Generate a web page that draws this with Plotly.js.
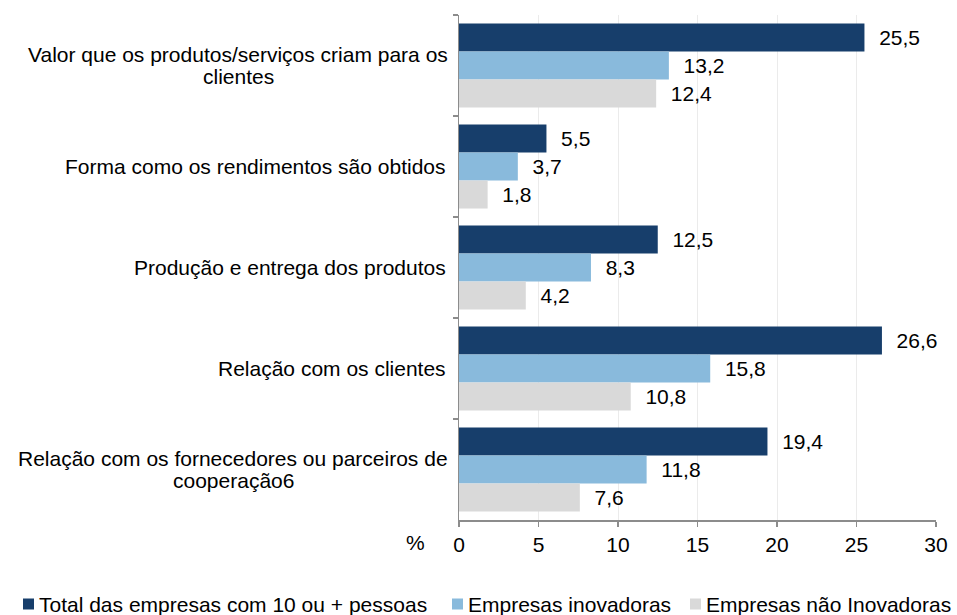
<!DOCTYPE html>
<html>
<head>
<meta charset="utf-8">
<script src="https://cdn.plot.ly/plotly-3.0.1.min.js"></script>
<style>
html, body { margin: 0; padding: 0; background: #fff; }
#chart { width: 957px; height: 615px; }
</style>
</head>
<body>
<div id="chart"></div>
<script>
const categories = [
  "Valor que os produtos/serviços criam para os<br>clientes",
  "Forma como os rendimentos são obtidos",
  "Produção e entrega dos produtos",
  "Relação com os clientes",
  "Relação com os fornecedores ou parceiros de<br>cooperação6"
];
const seriesNames = [
  "Total das empresas com 10 ou + pessoas",
  "Empresas inovadoras",
  "Empresas não Inovadoras"
];
const totalEmpresas = [25.5, 5.5, 12.5, 26.6, 19.4];
const empresasInovadoras = [13.2, 3.7, 8.3, 15.8, 11.8];
const empresasNaoInovadoras = [12.4, 1.8, 4.2, 10.8, 7.6];
const xTickVals = [0, 5, 10, 15, 20, 25, 30];
const xTickText = ["0", "5", "10", "15", "20", "25", "30"];
const axisUnit = "%";

const colors = ["#173E6B", "#89BADC", "#D9D9D9"];
const FONT = '"Liberation Sans", Arial, Helvetica, sans-serif';
const FS = 21;

const W = 957, H = 615;
const margin = { l: 459, r: 21, t: 15, b: 95 };
const plotW = W - margin.l - margin.r;
const plotH = H - margin.t - margin.b;

const seriesValues = [totalEmpresas, empresasInovadoras, empresasNaoInovadoras];
const fmt = v => v.toFixed(1).replace('.', ',');
const pad = '\u00a0\u00a0';

const traces = seriesValues.map((vals, i) => ({
  type: 'bar',
  orientation: 'h',
  name: seriesNames[i],
  x: vals,
  y: categories,
  marker: { color: colors[i], line: { width: 0 } },
  text: vals.map(v => pad + fmt(v)),
  textposition: 'outside',
  textfont: { family: FONT, size: FS, color: '#000' },
  constraintext: 'none',
  cliponaxis: false,
  showlegend: false,
  hoverinfo: 'x+name'
}));

// measure text widths for centered multi-line category labels
const cv = document.createElement('canvas');
const ctx = cv.getContext('2d');
ctx.font = FS + 'px ' + FONT;

const annotations = [];
const labelRightShift = -11;
const lineHalfGap = 11;
categories.forEach(cat => {
  const lines = cat.split('<br>');
  if (lines.length === 1) {
    annotations.push({
      xref: 'paper', yref: 'y', x: 0, y: cat, xanchor: 'right', yanchor: 'middle',
      xshift: labelRightShift, text: lines[0], showarrow: false,
      font: { family: FONT, size: FS, color: '#000' }
    });
  } else {
    const w = Math.max(...lines.map(l => ctx.measureText(l).width));
    lines.forEach((l, j) => {
      annotations.push({
        xref: 'paper', yref: 'y', x: 0, y: cat, xanchor: 'center', yanchor: 'middle',
        xshift: labelRightShift - w / 2,
        yshift: (j === 0 ? 1 : -1) * lineHalfGap,
        text: l, showarrow: false,
        font: { family: FONT, size: FS, color: '#000' }
      });
    });
  }
});

// unit label
annotations.push({
  xref: 'paper', yref: 'paper', x: 0, y: 0, xanchor: 'center', yanchor: 'middle',
  xshift: -44, yshift: -22, text: axisUnit, showarrow: false,
  font: { family: FONT, size: FS, color: '#000' }
});

// manual legend
const shapes = [];
const legendStarts = [23, 452, 690];
const legendY = 604;
const sq = 11;
const px2x = px => (px - margin.l) / plotW;
const py2y = py => (margin.t + plotH - py) / plotH;
seriesNames.forEach((name, i) => {
  const x0 = legendStarts[i];
  shapes.push({
    type: 'rect', xref: 'paper', yref: 'paper',
    x0: px2x(x0), x1: px2x(x0 + sq),
    y0: py2y(legendY + sq / 2), y1: py2y(legendY - sq / 2),
    fillcolor: colors[i], line: { width: 0 }
  });
  annotations.push({
    xref: 'paper', yref: 'paper', x: px2x(x0 + sq + 3), y: py2y(legendY),
    xanchor: 'left', yanchor: 'middle', text: name, showarrow: false,
    font: { family: FONT, size: FS, color: '#000' }
  });
});

const layout = {
  width: W, height: H,
  margin: margin,
  paper_bgcolor: '#fff', plot_bgcolor: '#fff',
  barmode: 'group',
  bargap: 0.168,
  bargroupgap: 0,
  showlegend: false,
  font: { family: FONT, size: FS, color: '#000' },
  xaxis: {
    range: [0, 30],
    tickvals: xTickVals, ticktext: xTickText,
    showgrid: true, gridcolor: '#EBEBEB', gridwidth: 1,
    zeroline: false,
    showline: true, linecolor: '#8C8C8C', linewidth: 1.5,
    ticks: 'outside', ticklen: 5, tickcolor: '#8C8C8C', tickwidth: 1.5,
    tickfont: { family: FONT, size: FS, color: '#000' },
    fixedrange: true
  },
  yaxis: {
    type: 'category',
    autorange: 'reversed',
    tickson: 'boundaries',
    ticks: 'outside', ticklen: 5, tickcolor: '#8C8C8C', tickwidth: 1.5,
    showticklabels: false,
    showgrid: false, zeroline: false,
    showline: true, linecolor: '#8C8C8C', linewidth: 1.5,
    fixedrange: true
  },
  annotations: annotations,
  shapes: shapes
};

Plotly.newPlot('chart', traces, layout, { displayModeBar: false, staticPlot: true });
</script>
</body>
</html>
